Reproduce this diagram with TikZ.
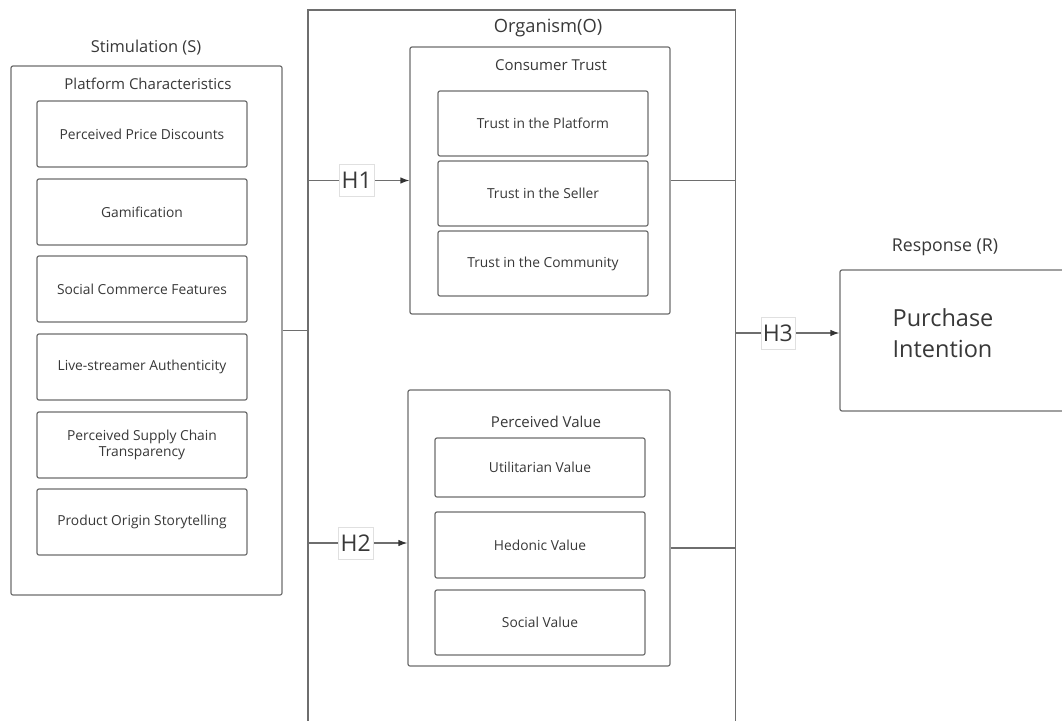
\documentclass[tikz,border=0pt]{standalone}
\usepackage{fontspec}
\setmainfont{Open Sans}
\usetikzlibrary{arrows.meta}
\definecolor{ln}{HTML}{6E6E6E}
\definecolor{tx}{HTML}{383838}
\definecolor{ah}{HTML}{333333}
\tikzset{
  bx/.style={draw=ln, line width=1.2pt, rounded corners=2pt, inner sep=0pt, text=tx},
  ib/.style={bx, minimum width=210pt, minimum height=66pt, font=\fontsize{13.8}{16.5}\selectfont, align=center},
  ttl/.style={text=tx, font=\fontsize{16.4}{19}\selectfont, inner sep=0pt},
  sub/.style={text=tx, font=\fontsize{15}{18}\selectfont, inner sep=0pt},
  hl/.style={fill=white, draw=black!12, line width=0.4pt, inner sep=2pt, minimum height=32pt, text=tx, font=\fontsize{23}{26}\selectfont},
  con/.style={draw=ln, line width=1.2pt},
  arr/.style={con, -{Latex[length=9pt,width=6.5pt,color=ah]}},
}
\begin{document}
\begin{tikzpicture}[x=1pt,y=-1pt]
\useasboundingbox[fill=white] (0,0) rectangle (1062,720);
% Stimulation
\node[ttl] (st) at (146,48) {Stimulation (S)};
\node[bx, minimum width=271pt, minimum height=529pt] (stim) at (146.5,330.5) {};
\node[sub] (pc) at (148,84) {Platform Characteristics};
\node[ib] (s1) at (142,134) {Perceived Price Discounts};
\node[ib] (s2) at (142,212) {Gamification};
\node[ib] (s3) at (142,289) {Social Commerce Features};
\node[ib] (s4) at (142,367) {Live-streamer Authenticity};
\node[ib] (s5) at (142,445) {Perceived Supply Chain\\Transparency};
\node[ib] (s6) at (142,522) {Product Origin Storytelling};
% Organism
\node[ttl, font=\fontsize{18.3}{21}\selectfont] (ot) at (548,28) {Organism(O)};
\node[minimum width=427pt, minimum height=730pt, anchor=north west, inner sep=0pt] (org) at (308,10) {};
\draw[con] (org.south west) -- (org.north west) -- (org.north east) -- (org.south east);
\node[bx, minimum width=260pt, minimum height=267pt] (ct) at (540,180.5) {};
\node[sub] (ctt) at (551,65) {Consumer Trust};
\node[ib, minimum height=65pt] (c1) at (543,123.5) {Trust in the Platform};
\node[ib, minimum height=65pt] (c2) at (543,193.5) {Trust in the Seller};
\node[ib, minimum height=65pt] (c3) at (543,263.5) {Trust in the Community};
\node[bx, minimum width=262pt, minimum height=276pt] (pv) at (539,528) {};
\node[sub] (pvt) at (546,422) {Perceived Value};
\node[ib, minimum height=59pt] (v1) at (540,467.5) {Utilitarian Value};
\node[ib, minimum height=66pt] (v2) at (540,545) {Hedonic Value};
\node[ib, minimum height=65pt] (v3) at (540,622.5) {Social Value};
% Response
\node[ttl, font=\fontsize{17.7}{21}\selectfont] (rt) at (945,247) {Response (R)};
\node[bx, minimum width=240pt, minimum height=141pt] (resp) at (960,340.5) {};
\node[text=tx, font=\fontsize{23.5}{31}\selectfont, align=left, inner sep=0pt] (pi) at (943,333) {Purchase\\Intention};
% coordinates
\coordinate (h2a) at (308,543);
\coordinate (pvr) at (735,548);
\coordinate (h3a) at (735,333);
% connectors
\draw[con] (stim.east) -- (org.west |- stim.east);
\draw[arr] (org.west |- ct.west) -- node[hl, pos=0.48] {H1} (ct.west);
\draw[arr] (h2a) -- node[hl, pos=0.48] {H2} (pv.west |- h2a);
\draw[con] (ct.east) -- (org.east |- ct.east);
\draw[con] (pv.east |- pvr) -- (pvr);
\draw[arr] (h3a) -- node[hl, pos=0.41] {H3} (resp.west |- h3a);
\end{tikzpicture}
\end{document}
